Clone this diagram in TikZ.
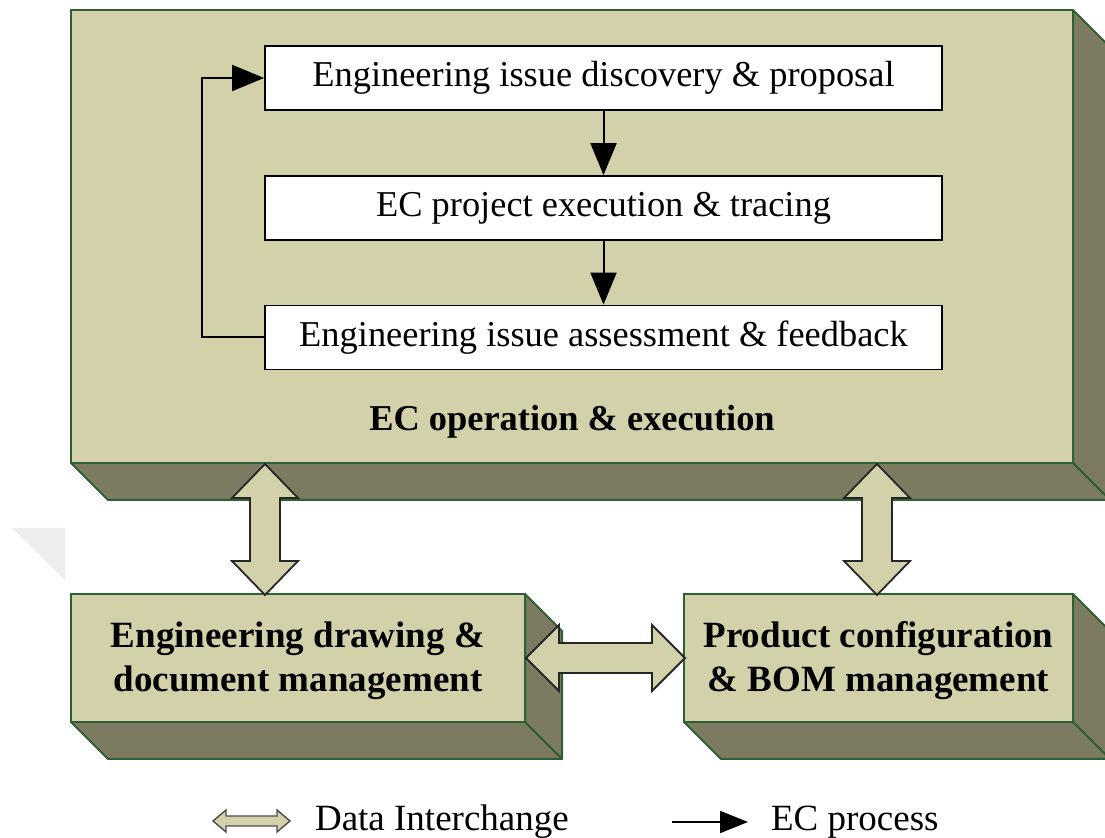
\documentclass[tikz,border=0pt]{standalone}
\usepackage{fontspec}
\setmainfont{Liberation Serif}
\usetikzlibrary{arrows.meta,calc}

\definecolor{facecol}{HTML}{D3D1AA}
\definecolor{sidecol}{HTML}{7C7B62}
\definecolor{edgecol}{HTML}{2F5F34}

\tikzset{
  face/.style={draw=edgecol, fill=facecol, line width=1pt, rectangle, inner sep=0pt},
  sideface/.style={draw=edgecol, fill=sidecol, line width=1pt, line join=round},
  stepbox/.style={draw=black, fill=white, line width=0.9pt, rectangle, inner sep=0pt,
    minimum width=338.5pt, minimum height=32pt, font=\fontsize{18.2}{21}\selectfont},
  flow/.style={line width=1pt, -{Triangle[length=16pt,width=13pt]}},
  blockarrow/.style={draw=black!85, fill=facecol, line width=0.9pt, line join=miter},
  boxtext/.style={font=\bfseries\fontsize{18.5}{22}\selectfont, align=center},
  legendtext/.style={font=\fontsize{18.5}{21}\selectfont, anchor=west},
}

\begin{document}
\begin{tikzpicture}[x=0.5pt, y=-0.5pt]
\useasboundingbox (0,0) rectangle (1105,838);

% faint corner mark at the left edge
\fill[black!7] (12,528) -- (65,528) -- (65,580) -- cycle;

% ---- EC operation & execution block (extruded) ----
\begin{scope}
\clip (0,0) rectangle (1105,838);
\filldraw[sideface] (1073,10) -- (1110,47) -- (1110,500) -- (1073,463) -- cycle;
\filldraw[sideface] (71,463) -- (1073,463) -- (1110,500) -- (108,500) -- cycle;
\end{scope}
\node[face, minimum width=501pt, minimum height=226.5pt] (ops) at (572,236.5) {};

% ---- Engineering drawing & document management block ----
\filldraw[sideface] (525,594) -- (562,631) -- (562,759) -- (525,722) -- cycle;
\filldraw[sideface] (71,722) -- (525,722) -- (562,759) -- (108,759) -- cycle;
\node[face, minimum width=227pt, minimum height=64pt] (dwg) at (298,658) {};
\node[boxtext] (dwgtxt) at ([yshift=-1.5pt]dwg.center) {Engineering drawing \&\\document management};

% ---- Product configuration & BOM management block ----
\begin{scope}
\clip (0,0) rectangle (1105,838);
\filldraw[sideface] (1073,594) -- (1110,631) -- (1110,759) -- (1073,722) -- cycle;
\filldraw[sideface] (684,722) -- (1073,722) -- (1110,759) -- (721,759) -- cycle;
\end{scope}
\node[face, minimum width=194.5pt, minimum height=64pt] (bom) at (878.5,658) {};
\node[boxtext] (bomtxt) at ([yshift=-1.5pt]bom.center) {Product configuration\\\& BOM management};

% ---- EC process steps ----
\node[stepbox] (s1) at (603.5,78) {Engineering issue discovery \& proposal};
\node[stepbox] (s2) at (603.5,208) {EC project execution \& tracing};
\node[stepbox] (s3) at (603.5,337.5) {Engineering issue assessment \& feedback};
\node[font=\bfseries\fontsize{18.2}{21}\selectfont] (opslabel) at (572,422) {EC operation \& execution};

\draw[flow] (s1) -- (s2);
\draw[flow] (s2) -- (s3);
\coordinate (loopx) at (202,0);
\draw[flow] (s3.west) -- (s3.west -| loopx) -- (s1.west -| loopx) -- (s1.west);

% ---- data interchange arrows ----
\coordinate (v1) at (ops.south -| 265,0);
\coordinate (v2) at (ops.south -| 877,0);
\coordinate (h1) at (dwg.east);
\foreach \c in {v1,v2}{
  \draw[blockarrow] (\c) -- ++(33,34) -- ++(-18,0) -- ++(0,63) -- ++(18,0)
    -- ++(-33,34) -- ++(-33,-34) -- ++(18,0) -- ++(0,-63) -- ++(-18,0) -- cycle;
}
\draw[blockarrow] (h1) -- ++(33,-33) -- ++(0,18) -- ++(93,0) -- ++(0,-18)
  -- ++(33,33) -- ++(-33,33) -- ++(0,-18) -- ++(-93,0) -- ++(0,18) -- cycle;

% ---- legend ----
\coordinate (lg1) at (213,821);
\draw[blockarrow, draw=black!70, line width=0.7pt] (lg1) -- ++(13,-11) -- ++(0,6) -- ++(51,0) -- ++(0,-6)
  -- ++(13,11) -- ++(-13,11) -- ++(0,-6) -- ++(-51,0) -- ++(0,6) -- cycle;
\node[legendtext] (lgtxt1) at (308,822) {Data Interchange};
\coordinate (lg2a) at (672,822);
\coordinate (lg2b) at (748,822);
\draw[line width=1pt, -{Triangle[length=14pt,width=11pt]}] (lg2a) -- (lg2b);
\node[legendtext] (lgtxt2) at (764,822) {EC process};
\end{tikzpicture}
\end{document}
